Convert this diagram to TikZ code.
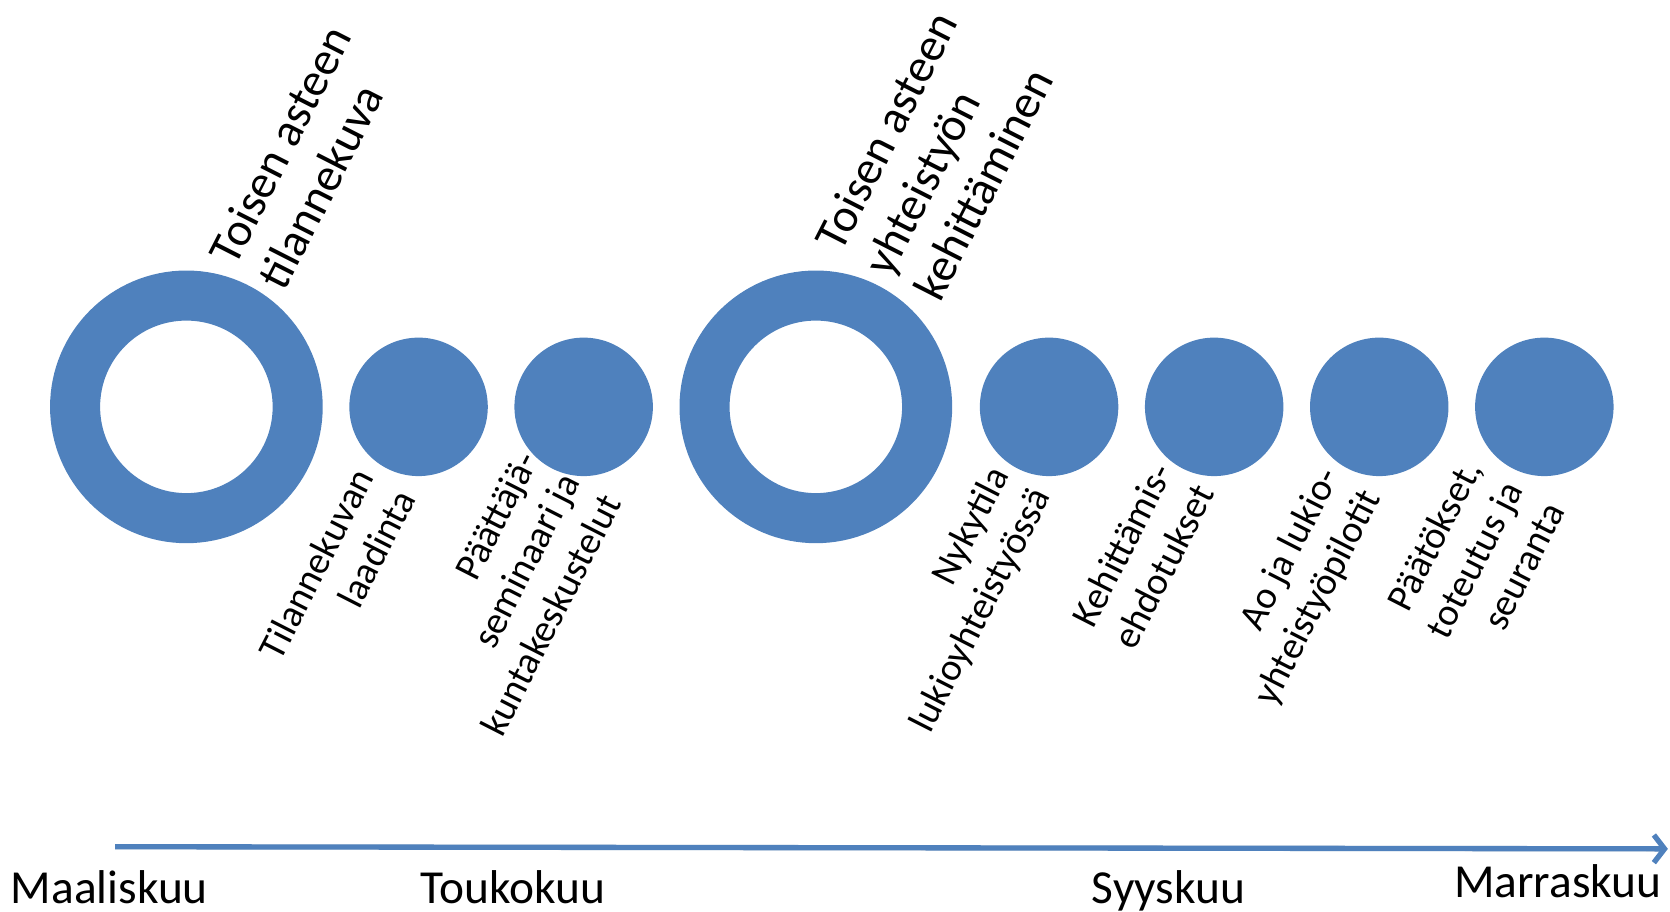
\documentclass[tikz,border=0pt]{standalone}
\usepackage{fontspec}
\setmainfont{Carlito}
\usetikzlibrary{arrows.meta}
\definecolor{bl}{HTML}{4F81BD}
\begin{document}
\begin{tikzpicture}[x=1pt,y=1pt,
  ring/.style={circle, draw=bl, line width=47pt, minimum size=209pt, inner sep=0pt},
  dot/.style={circle, fill=bl, minimum size=130pt, inner sep=0pt},
  toplab/.style={anchor=base west, inner sep=0pt, transform shape, font=\fontsize{44.2}{53}\selectfont},
  botlab/.style={anchor=base east, inner sep=0pt, transform shape, font=\fontsize{36.2}{44}\selectfont},
  month/.style={anchor=base west, inner sep=0pt, font=\fontsize{44.5}{50}\selectfont}]
\useasboundingbox (0,0) rectangle (1568,-856);

% circles
\node[ring] (r1) at (175,-382) {};
\node[dot] (c1) at (393,-382) {};
\node[dot] (c2) at (548,-382) {};
\node[ring] (r2) at (766,-382) {};
\node[dot] (c3) at (985,-382) {};
\node[dot] (c4) at (1140,-382) {};
\node[dot] (c5) at (1295,-382) {};
\node[dot] (c6) at (1450,-382) {};

% top labels
\begin{scope}[shift={(221,-251)},rotate=63]
  \node[toplab] (t1a) at (0,0) {Toisen asteen};
  \node[toplab] (t1b) at (0,-52) {tilannekuva};
\end{scope}
\begin{scope}[shift={(790,-238)},rotate=63]
  \node[toplab] (t2a) at (0,0) {Toisen asteen};
  \node[toplab] (t2b) at (0,-52) {yhteistyön};
  \node[toplab] (t2c) at (0,-104) {kehittäminen};
\end{scope}

% bottom labels
\begin{scope}[shift={(352,-448)},rotate=63]
  \node[botlab] (b1a) at (0,0) {Tilannekuvan};
  \node[botlab] (b1b) at (0,-44) {laadinta};
\end{scope}
\begin{scope}[shift={(506,-432)},rotate=63]
  \node[botlab] (b2a) at (0,0) {Päättäjä-};
  \node[botlab] (b2b) at (0,-44) {seminaari ja};
  \node[botlab] (b2c) at (0,-88) {kuntakeskustelut};
\end{scope}
\begin{scope}[shift={(948,-446)},rotate=63]
  \node[botlab] (b3a) at (0,0) {Nykytila};
  \node[botlab] (b3b) at (0,-44) {lukioyhteistyössä};
\end{scope}
\begin{scope}[shift={(1102,-443)},rotate=63]
  \node[botlab] (b4a) at (0,0) {Kehittämis-};
  \node[botlab] (b4b) at (0,-44) {ehdotukset};
\end{scope}
\begin{scope}[shift={(1258,-447)},rotate=63]
  \node[botlab] (b5a) at (0,0) {Ao ja lukio-};
  \node[botlab] (b5b) at (0,-44) {yhteistyöpilotit};
\end{scope}
\begin{scope}[shift={(1392,-440)},rotate=63]
  \node[botlab] (b6a) at (0,0) {Päätökset,};
  \node[botlab] (b6b) at (0,-44) {toteutus ja};
  \node[botlab] (b6c) at (0,-88) {seuranta};
\end{scope}

% time axis
\coordinate (a0) at (108,-795);
\coordinate (a1) at (1566,-797);
\draw[black!25, line width=5pt, opacity=0.5, shift={(2,-4)}] (a0) -- ([xshift=-8pt]a1);
\draw[bl, line width=5pt, -{Straight Barb[length=10pt,width=26pt]}] (a0) -- (a1);

% months
\node[month] (m1) at (10,-848) {Maaliskuu};
\node[month] (m2) at (395,-848) {Toukokuu};
\node[month] (m3) at (1025,-848) {Syyskuu};
\node[month] (m4) at (1365,-843) {Marraskuu};
\end{tikzpicture}
\end{document}
